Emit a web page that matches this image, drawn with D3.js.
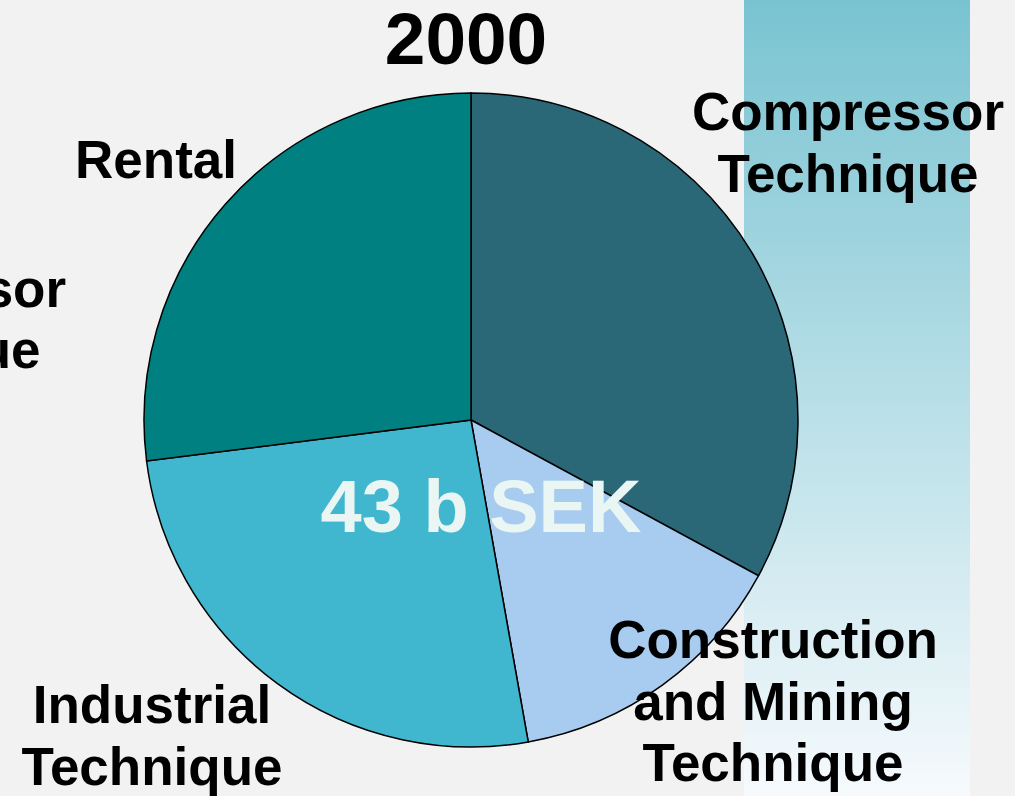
<!DOCTYPE html>
<html>
<head>
<meta charset="utf-8">
<script src="https://d3js.org/d3.v7.min.js"></script>
<style>
  body { margin: 0; background: #f2f2f2; }
  svg text { font-family: "Liberation Sans", Arial, sans-serif; font-weight: bold; }
</style>
</head>
<body>
<svg id="chart" width="1015" height="796"></svg>
<script>
// data
const title = "2000";
const total = "43 b SEK";
const segments = ["Compressor Technique", "Construction and Mining Technique", "Industrial Technique", "Rental"];
const shares = [32.9, 14.3, 25.8, 27.0];
const colors = ["#2a6777", "#a8cbf0", "#40b7cf", "#008080"];

const svg = d3.select("#chart");
const width = +svg.attr("width");
const height = +svg.attr("height");

const cx = 471, cy = 420, radius = 327;

// gradient band on the right side
const defs = svg.append("defs");
const grad = defs.append("linearGradient")
    .attr("id", "band")
    .attr("x1", 0).attr("y1", 0).attr("x2", 0).attr("y2", 1);
grad.append("stop").attr("offset", "0%").attr("stop-color", "#79c3d1");
grad.append("stop").attr("offset", "100%").attr("stop-color", "#f6fafd");

svg.append("rect")
    .attr("width", width).attr("height", height)
    .attr("fill", "#f2f2f2");

svg.append("rect")
    .attr("x", 744).attr("y", 0)
    .attr("width", 226).attr("height", height)
    .attr("fill", "url(#band)");

// pie
const pie = d3.pie().sort(null).value(d => d.value);
const arc = d3.arc().innerRadius(0).outerRadius(radius);
const pieData = pie(segments.map((s, i) => ({ name: s, value: shares[i], color: colors[i] })));

svg.append("g")
    .attr("transform", `translate(${cx},${cy})`)
    .selectAll("path")
    .data(pieData)
    .join("path")
    .attr("d", arc)
    .attr("fill", d => d.data.color)
    .attr("stroke", "#000")
    .attr("stroke-width", 1.5);

// title
svg.append("text")
    .attr("x", 466).attr("y", 64)
    .attr("text-anchor", "middle")
    .attr("font-size", 73)
    .attr("fill", "#000")
    .text(title);

// total in the middle
svg.append("text")
    .attr("x", 481).attr("y", 532)
    .attr("text-anchor", "middle")
    .attr("font-size", 74)
    .attr("fill", "#eaf6f3")
    .text(total);

// segment labels (placed like on the slide)
const labelLayout = [
    { x: 848, y: 130, lines: ["Compressor", "Technique"] },
    { x: 773, y: 658, lines: ["Construction", "and Mining", "Technique"] },
    { x: 152, y: 723, lines: ["Industrial", "Technique"] },
    { x: 156, y: 178, lines: ["Rental"] }
];

labelLayout.forEach(l => {
    const t = svg.append("text")
        .attr("text-anchor", "middle")
        .attr("font-size", 53)
        .attr("fill", "#000");
    l.lines.forEach((line, i) => {
        t.append("tspan")
            .attr("x", l.x)
            .attr("y", l.y + i * 61.5)
            .text(line);
    });
});

// leftover label from the previous slide, clipped at the left edge
const ghost = svg.append("text")
    .attr("text-anchor", "middle")
    .attr("font-size", 53)
    .attr("fill", "#000");
["Compressor", "Technique"].forEach((line, i) => {
    ghost.append("tspan").attr("x", -90).attr("y", 307 + i * 61).text(line);
});
</script>
</body>
</html>
